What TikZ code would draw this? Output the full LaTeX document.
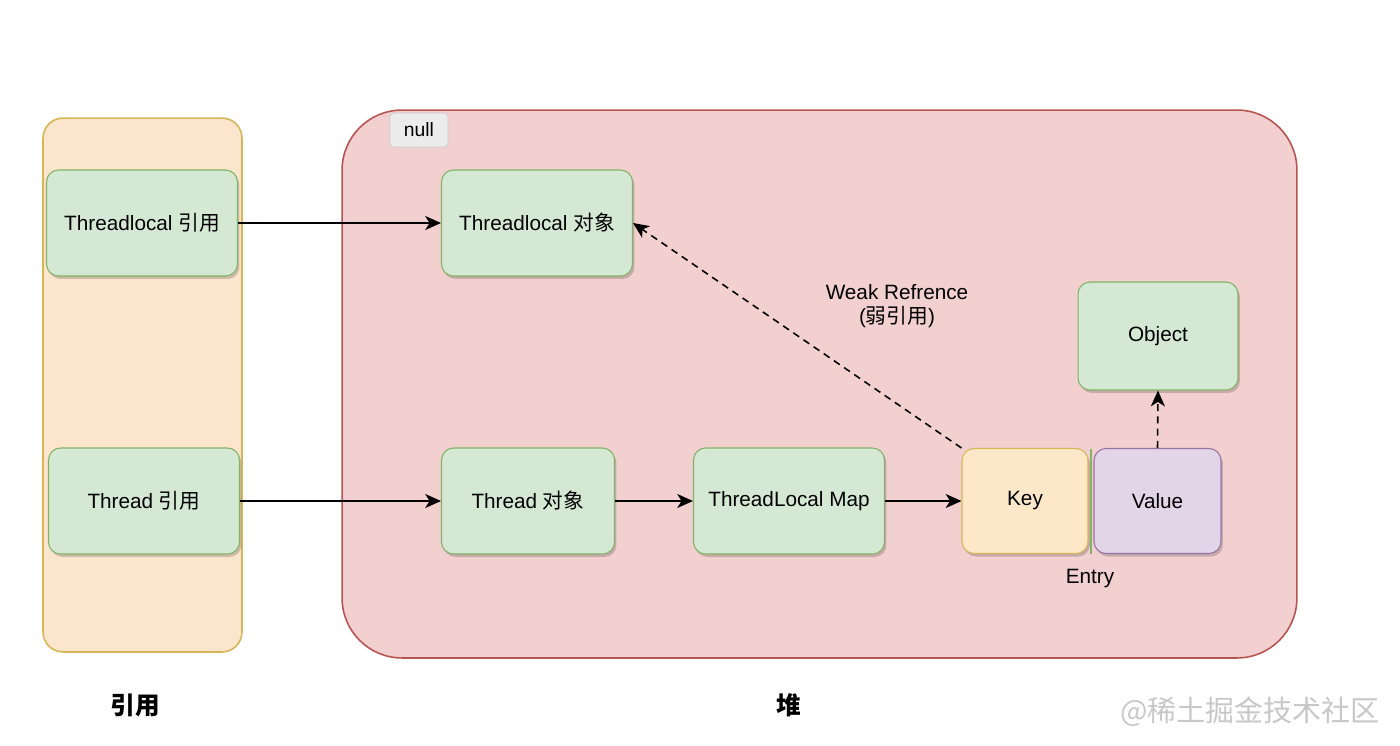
\documentclass[tikz,border=0pt]{standalone}
\usepackage{fontspec}
\setmainfont{Liberation Sans}
\newfontfamily\cjk{Noto Sans CJK SC}
\usepackage{tikz}
\usetikzlibrary{arrows.meta, positioning, shadows, calc}
\definecolor{colStack}    {RGB}{251,229,205}
\definecolor{colStackLine}{RGB}{214,182,86}
\definecolor{colHeap}     {RGB}{242,208,208}
\definecolor{colHeapLine} {RGB}{184,84,80}
\definecolor{colNode}     {RGB}{213,232,212}
\definecolor{colNodeLine} {RGB}{130,179,102}
\definecolor{colKey}      {RGB}{252,232,200}
\definecolor{colValue}    {RGB}{225,213,231}
\definecolor{colValueLine}{RGB}{150,115,166}
\definecolor{colNull}     {RGB}{236,236,236}
\definecolor{colMark}     {RGB}{200,200,200}
\tikzset{
  base/.style    = {draw, rounded corners=0.24cm, minimum width=3.82cm,
                    minimum height=2.12cm, align=center, inner sep=2pt,
                    font=\fontsize{11.8}{14}\selectfont, line width=0.6pt,
                    drop shadow={shadow xshift=0.04cm, shadow yshift=-0.06cm,
                                 opacity=0.18, fill=black}},
  objbox/.style  = {base, fill=colNode, draw=colNodeLine},
  keybox/.style  = {base, fill=colKey, draw=colStackLine,
                    minimum width=2.52cm, minimum height=2.1cm},
  valbox/.style  = {base, fill=colValue, draw=colValueLine,
                    minimum width=2.54cm, minimum height=2.1cm},
  stackbox/.style= {draw=colStackLine, fill=colStack, line width=0.9pt,
                    rounded corners=0.4cm},
  heapbox/.style = {draw=colHeapLine, fill=colHeap, line width=0.9pt,
                    rounded corners=1.2cm},
  label/.style   = {font=\fontsize{11.8}{14}\selectfont, align=center},
  arr/.style     = {-{Stealth[length=9pt, width=8pt, inset=2.5pt]},
                    line width=0.9pt},
  weak/.style    = {arr, dashed, dash pattern=on 4pt off 3pt},
}

\begin{document}
\begin{tikzpicture}[x=0.02cm, y=-0.02cm]

\useasboundingbox[fill=white] (0,0) rectangle (1400,745);

%% ── containers ───────────────────────────────────────────────────────────────
\node[stackbox, minimum width=3.98cm, minimum height=10.68cm] (stack)
  at (142.5,385) {};
\node[heapbox, minimum width=19.1cm, minimum height=10.96cm] (heap)
  at (819.5,384) {};

\node[draw=colMark, fill=colNull, rounded corners=2pt, minimum width=1.16cm,
      minimum height=0.68cm, font=\fontsize{11}{13}\selectfont] (null)
  at (419,130) {null};

%% ── references ───────────────────────────────────────────────────────────────
\node[objbox] (tlRef) at (142,223) {Threadlocal {\cjk 引用}};
\node[objbox] (thRef) at (144,501) {Thread {\cjk 引用}};

%% ── heap objects ─────────────────────────────────────────────────────────────
\node[objbox] (tlObj) at (537,223) {Threadlocal {\cjk 对象}};
\node[objbox, minimum width=3.46cm] (thObj) at (528,501) {Thread {\cjk 对象}};
\node[objbox] (tlMap) at (789,501) {ThreadLocal Map};

% Entry: key + value
\node[keybox] (key) at (1025,501) {Key};
\node[valbox] (val) at (1157.5,501) {Value};
\draw[colNodeLine, line width=0.8pt] (1091,449) -- (1091,554);
\node[label] (entry) at (1090,579) {Entry};

\node[objbox, minimum width=3.2cm, minimum height=2.16cm] (obj)
  at (1158,336) {Object};

\node[label] (weakTxt) at (897,306) {Weak Refrence\\({\cjk 弱引用})};

%% ── arrows ───────────────────────────────────────────────────────────────────
\draw[arr] (tlRef) -- (tlObj);
\draw[arr] (thRef) -- (thObj);
\draw[arr] (thObj) -- (tlMap);
\draw[arr] (tlMap) -- (key);
\draw[weak] (key.north west) -- (tlObj.east);
\draw[weak] (val.north) -- (obj.south);

%% ── captions ─────────────────────────────────────────────────────────────────
\node[font=\fontsize{14}{16}\selectfont\cjk\bfseries] (stackCap)
  at (135,705) {引用};
\node[font=\fontsize{14}{16}\selectfont\cjk\bfseries] (heapCap)
  at (789,705) {堆};
\node[font=\fontsize{16.5}{18}\selectfont\cjk, text=colMark, anchor=east]
  (mark) at (1386,712) {@稀土掘金技术社区};

\end{tikzpicture}
\end{document}
